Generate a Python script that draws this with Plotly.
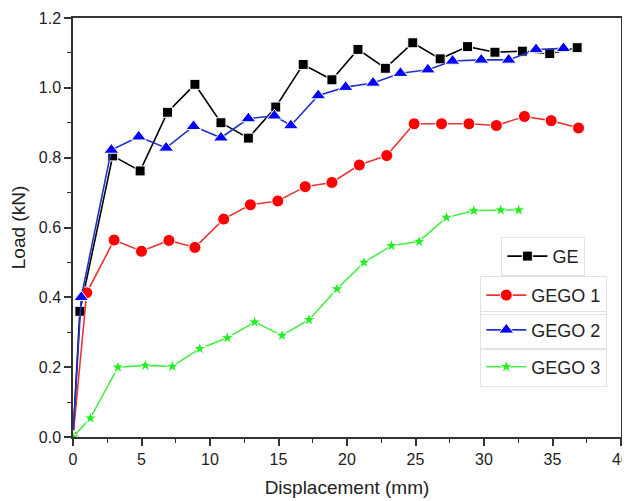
import plotly.graph_objects as go

# ---- data ----
ge_x = [0, 0.5, 2.9, 4.9, 6.9, 8.9, 10.8, 12.8, 14.8, 16.8, 18.9, 20.8, 22.8, 24.8, 26.8, 28.8, 30.8, 32.8, 34.8, 36.8]
ge_y = [0, 0.36, 0.805, 0.762, 0.93, 1.01, 0.90, 0.856, 0.945, 1.067, 1.023, 1.11, 1.056, 1.129, 1.083, 1.118, 1.102, 1.105, 1.098, 1.115]

gego1_x = [0, 1.0, 3.0, 5.0, 7.0, 8.9, 11.0, 12.95, 14.95, 16.95, 18.9, 20.9, 22.9, 24.9, 26.9, 28.9, 30.9, 32.95, 34.9, 36.9]
gego1_y = [0, 0.413, 0.564, 0.532, 0.563, 0.543, 0.624, 0.665, 0.676, 0.717, 0.729, 0.779, 0.806, 0.897, 0.897, 0.897, 0.892, 0.918, 0.906, 0.885]

gego2_x = [0, 0.6, 2.8, 4.8, 6.8, 8.8, 10.8, 12.8, 14.7, 15.9, 17.9, 19.9, 21.9, 23.9, 25.9, 27.7, 29.8, 31.8, 33.8, 35.8]
gego2_y = [0, 0.40, 0.822, 0.86, 0.828, 0.89, 0.857, 0.912, 0.92, 0.892, 0.978, 1.002, 1.014, 1.042, 1.052, 1.077, 1.08, 1.08, 1.11, 1.113]

gego3_x = [0, 1.27, 3.28, 5.28, 7.25, 9.25, 11.27, 13.26, 15.26, 17.23, 19.27, 21.24, 23.24, 25.26, 27.26, 29.25, 31.22, 32.53]
gego3_y = [0, 0.054, 0.200, 0.205, 0.202, 0.253, 0.284, 0.329, 0.291, 0.336, 0.424, 0.500, 0.548, 0.560, 0.629, 0.648, 0.650, 0.650]

series_names = ["GE", "GEGO 1", "GEGO 2", "GEGO 3"]

FONT = "Arial, Liberation Sans, sans-serif"

fig = go.Figure()

specs = [
    (ge_x, ge_y, "#000000", "#000000", "square", 10, "legend"),
    (gego1_x, gego1_y, "#ee3333", "#ff0000", "circle", 12, "legend2"),
    (gego2_x, gego2_y, "#2233cc", "#0000ff", "triangle-up", 13, "legend3"),
    (gego3_x, gego3_y, "#44ee44", "#22ee22", "star", 10, "legend4"),
]

for name, (xs, ys, lc, mc, sym, ms, lg) in zip(series_names, specs):
    fig.add_trace(go.Scatter(
        x=xs, y=ys, name=name, mode="lines+markers",
        line=dict(color=lc, width=1.6),
        marker=dict(symbol=sym, size=ms, color=mc, line=dict(color="white", width=1)),
        legend=lg, showlegend=True,
    ))

def leg(x, y):
    return dict(x=x, y=y, xanchor="right", yanchor="middle",
                bgcolor="rgba(255,255,255,0)", bordercolor="#e2e2e2", borderwidth=1,
                font=dict(family=FONT, size=18, color="#222"),
                tracegroupgap=0, itemwidth=40, visible=True)

# page body has an 8px margin, so the figure is drawn 8px smaller and offset
fig.update_layout(
    width=622, height=493,
    margin=dict(l=65, r=9, t=10, b=64, autoexpand=False),
    paper_bgcolor="white", plot_bgcolor="white",
    font=dict(family=FONT, color="#222"),
    showlegend=True,
    legend=leg(0.935, 0.431),
    legend2=leg(0.975, 0.338),
    legend3=leg(0.975, 0.255),
    legend4=leg(0.975, 0.167),
)

fig.update_xaxes(
    range=[0, 40], dtick=5, tick0=0, automargin=False, ticklabeloverflow="allow",
    showline=True, linecolor="#333", linewidth=1.5, mirror=True,
    ticks="outside", ticklen=7, tickwidth=1.5, tickcolor="#333",
    minor=dict(ticks="outside", ticklen=4, tickwidth=1.2, tickcolor="#333", dtick=2.5),
    showgrid=False, zeroline=False,
    tickfont=dict(family=FONT, size=16, color="#222"),
    title=dict(text="Displacement (mm)", font=dict(family=FONT, size=19, color="#222"), standoff=14),
)
fig.update_yaxes(
    range=[0, 1.2], dtick=0.2, tick0=0, tickformat=".1f", automargin=False,
    showline=True, linecolor="#333", linewidth=1.5, mirror=True,
    ticks="outside", ticklen=7, tickwidth=1.5, tickcolor="#333",
    minor=dict(ticks="outside", ticklen=4, tickwidth=1.2, tickcolor="#333", dtick=0.1),
    showgrid=False, zeroline=False,
    tickfont=dict(family=FONT, size=16, color="#222"),
    title=dict(text="Load (kN)", font=dict(family=FONT, size=19, color="#222"), standoff=8),
)

fig.write_html("out.html")
